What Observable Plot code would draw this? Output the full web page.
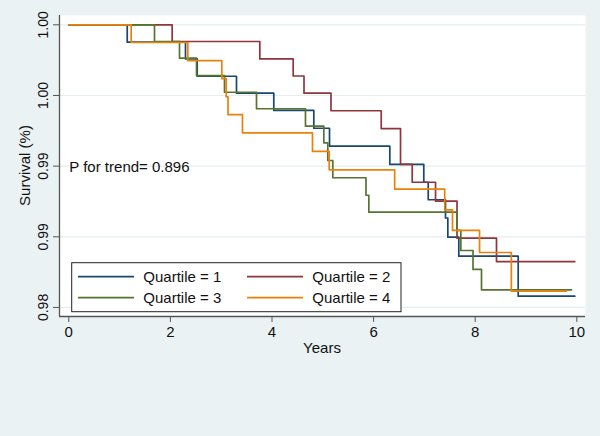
<!DOCTYPE html>
<html><head><meta charset="utf-8">
<script src="https://cdn.jsdelivr.net/npm/d3@7"></script>
<script src="https://cdn.jsdelivr.net/npm/@observablehq/plot@0.6"></script>
<style>
html,body{margin:0;padding:0;background:#eaf2f3;}
#chart{width:600px;height:436px;}
svg{display:block;}
</style></head><body><div id="chart"></div>
<script>
// Kaplan-Meier step data (years, survival)
const q1Time = [0, 1.150, 2.297, 2.528, 3.301, 4.035, 4.823, 5.132, 6.319, 6.988, 7.075, 7.415, 7.461, 7.677, 8.846, 9.961];
const q1Surv = [1, 0.99877, 0.99759, 0.99636, 0.99516, 0.99394, 0.99268, 0.99141, 0.99012, 0.98886, 0.98762, 0.98633, 0.98497, 0.98363, 0.98080, 0.98080];
const q2Time = [0, 2.035, 3.760, 4.417, 4.630, 5.161, 6.150, 6.530, 6.760, 7.219, 7.642, 8.419, 9.961];
const q2Surv = [1, 0.99882, 0.99759, 0.99638, 0.99516, 0.99392, 0.99266, 0.99012, 0.98886, 0.98753, 0.98490, 0.98325, 0.98325];
const q3Time = [0, 1.687, 2.179, 2.514, 3.065, 3.695, 4.659, 5.020, 5.098, 5.197, 5.850, 5.906, 7.642, 7.717, 7.957, 8.124, 9.896];
const q3Surv = [1, 0.99882, 0.99764, 0.99641, 0.99523, 0.99406, 0.99283, 0.99165, 0.99040, 0.98918, 0.98794, 0.98674, 0.98545, 0.98403, 0.98269, 0.98125, 0.98125];
const q4Time = [0, 1.228, 2.343, 3.012, 3.098, 3.134, 3.419, 4.797, 5.126, 6.415, 7.400, 7.553, 8.085, 8.711, 9.791];
const q4Surv = [1, 0.99875, 0.99747, 0.99620, 0.99491, 0.99364, 0.99236, 0.99104, 0.98974, 0.98837, 0.98691, 0.98545, 0.98389, 0.98115, 0.98115];

const seriesNames = ["Quartile = 1", "Quartile = 2", "Quartile = 3", "Quartile = 4"];
const seriesColors = ["#1a476f", "#90353b", "#55752f", "#e8820a"];
const xTicks = [0, 2, 4, 6, 8, 10];
const yTicks = [0.98, 0.985, 0.99, 0.995, 1.00];
const yTickLabels = ["0.98", "0.99", "0.99", "1.00", "1.00"];
const annotation = [{t: 0, s: 0.99, label: "P for trend= 0.896"}];
const xDomain = [-0.183, 10.171];
const yDomain = [0.97936, 1.00066];

const series = [[q1Time, q1Surv], [q2Time, q2Surv], [q3Time, q3Surv], [q4Time, q4Surv]];
const rows = [];
series.forEach(([ts, ss], k) => ts.forEach((t, i) => rows.push({q: seriesNames[k], t, s: ss[i]})));
const yLabelMap = new Map(yTicks.map((v, i) => [v, yTickLabels[i]]));

const font = "'Liberation Sans', Arial, Helvetica, sans-serif";
const axisColor = "#555";

const chart = Plot.plot({
  width: 600, height: 436,
  marginLeft: 59, marginRight: 15, marginTop: 15, marginBottom: 120,
  style: {background: "transparent", fontFamily: font, fontSize: "15px", color: "#111"},
  x: {domain: xDomain},
  y: {domain: yDomain},
  color: {domain: seriesNames, range: seriesColors},
  marks: [
    Plot.frame({fill: "white", stroke: null}),
    Plot.gridY(yTicks, {stroke: "#e4eeef", strokeOpacity: 1, strokeWidth: 1.2}),
    Plot.line(rows, {x: "t", y: "s", z: "q", stroke: "q", curve: "step-after", strokeWidth: 1.7}),
    Plot.text(annotation, {x: "t", y: "s", text: "label", textAnchor: "start", dx: 0.5, dy: 1, fontSize: 15, fill: "#111"}),
    Plot.ruleX([xDomain[0]], {stroke: axisColor, strokeWidth: 1.3}),
    Plot.ruleY([yDomain[0]], {stroke: axisColor, strokeWidth: 1.3}),
    Plot.axisX(xTicks, {tickSize: 6, tickPadding: 4, fontSize: 15, label: null, stroke: axisColor, fill: "#111"}),
    Plot.axisY(yTicks, {tickSize: 6, tickPadding: 6, tickRotate: -90, fontSize: 14, label: null, stroke: axisColor, fill: "#111", tickFormat: d => yLabelMap.get(d)})
  ]
});

const svg = d3.select(chart);
svg.append("text").attr("transform", "translate(30,165.5) rotate(-90)")
  .attr("text-anchor", "middle").attr("font-family", font).attr("font-size", 15).attr("fill", "#111")
  .text("Survival (%)");
svg.append("text").attr("x", 322).attr("y", 352.5)
  .attr("text-anchor", "middle").attr("font-family", font).attr("font-size", 15).attr("fill", "#111")
  .text("Years");

const lg = svg.append("g");
lg.append("rect").attr("x", 71.7).attr("y", 262.7).attr("width", 329.3).attr("height", 49)
  .attr("fill", "white").attr("stroke", "#222").attr("stroke-width", 1);
const colX = [78, 247], rowY = [276.7, 297.7];
seriesNames.forEach((name, i) => {
  const cx = colX[i % 2], cy = rowY[Math.floor(i / 2)];
  lg.append("line").attr("x1", cx).attr("x2", cx + 56).attr("y1", cy).attr("y2", cy)
    .attr("stroke", seriesColors[i]).attr("stroke-width", 1.7);
  lg.append("text").attr("x", cx + 65.3).attr("y", cy + 5.6).attr("text-anchor", "start")
    .attr("font-family", font).attr("font-size", 15).attr("fill", "#111").text(name);
});

document.getElementById("chart").appendChild(chart);
</script>
</body></html>
